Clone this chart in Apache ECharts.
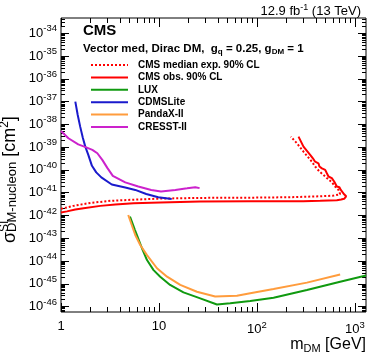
<!DOCTYPE html>
<html>
<head>
<meta charset="utf-8">
<title>CMS DM SI limits</title>
<script src="https://cdn.jsdelivr.net/npm/echarts@6/dist/echarts.min.js"></script>
<style>
html, body { margin:0; height:100%; background:#fff; }
</style>
</head>
<body>
<div id="main" style="width:374px;height:359px;"></div>
<script>
// axis range + tick labels
var X_MIN = 1, X_MAX = 1300;
var Y_MIN_EXP = -46.24, Y_MAX_EXP = -33.33;
var xMajor = [1, 10, 100, 1000];
var yMajorExp = [-46, -45, -44, -43, -42, -41, -40, -39, -38, -37, -36, -35, -34];

// CMS median expected 90% CL (dotted)
var expMass = [1.0, 1.335, 2.0, 3.19, 5.47, 10.3, 26.4, 85.5, 219, 442, 601, 708, 742, 681, 629, 582, 518, 478, 435, 393, 364, 299, 256, 222];
var expSigma = [1.95e-42, 2.63e-42, 3.55e-42, 4.37e-42, 4.90e-42, 5.50e-42, 5.89e-42, 6.03e-42, 6.31e-42, 6.92e-42, 7.41e-42, 8.51e-42, 9.77e-42, 1.32e-41, 1.86e-41, 2.88e-41, 4.37e-41, 6.03e-41, 8.51e-41, 1.41e-40, 2.29e-40, 6.31e-40, 1.48e-39, 2.88e-39];

// CMS observed 90% CL
var obsMass = [1.0, 1.15, 1.40, 1.70, 2.52, 3.58, 5.51, 10.3, 26.4, 85.5, 173, 297, 442, 655, 725, 778, 815, 778, 719, 696, 655, 615, 582, 538, 518, 498, 461, 435, 425, 393, 373, 350, 299, 266];
var obsSigma = [1.35e-42, 1.51e-42, 1.82e-42, 2.09e-42, 2.63e-42, 3.02e-42, 3.47e-42, 3.72e-42, 4.07e-42, 4.17e-42, 4.17e-42, 4.17e-42, 4.37e-42, 4.68e-42, 5.01e-42, 5.37e-42, 6.92e-42, 8.51e-42, 1.32e-41, 1.74e-41, 1.86e-41, 3.09e-41, 4.37e-41, 5.13e-41, 7.08e-41, 1.0e-40, 1.17e-40, 1.41e-40, 1.95e-40, 2.29e-40, 3.24e-40, 4.57e-40, 1.05e-39, 2.88e-39];

// LUX
var luxMass = [5.06, 5.69, 5.96, 6.71, 7.55, 8.81, 10.3, 13.0, 17.8, 26.4, 39.1, 53.4, 85.5, 148, 324, 708, 1300];
var luxSigma = [8.91e-43, 2.29e-43, 1.38e-43, 3.63e-44, 1.10e-44, 3.98e-45, 2.04e-45, 8.91e-46, 4.17e-46, 2.29e-46, 1.23e-46, 1.38e-46, 1.74e-46, 2.45e-46, 5.37e-46, 1.23e-45, 2.29e-45];

// CDMSLite
var cdmsMass = [1.40, 1.48, 1.57, 1.67, 1.77, 1.90, 2.07, 2.29, 2.58, 3.30, 4.53, 5.73, 7.42, 9.84, 13.5];
var cdmsSigma = [1.0e-37, 2.63e-38, 7.94e-39, 2.57e-39, 1.05e-39, 4.57e-40, 1.51e-40, 7.76e-41, 4.68e-41, 2.29e-41, 1.70e-41, 1.32e-41, 8.71e-42, 6.31e-42, 5.25e-42];

// PandaX-II
var pandaMass = [4.86, 5.73, 6.44, 7.55, 9.55, 12.1, 16.5, 24.4, 37.5, 62.5, 85.5, 148, 324, 708];
var pandaSigma = [1.05e-42, 1.38e-43, 5.01e-44, 1.82e-44, 4.79e-45, 2.04e-45, 8.91e-46, 4.47e-46, 2.75e-46, 2.95e-46, 3.80e-46, 5.89e-46, 1.12e-45, 2.57e-45];

// CRESST-II
var cresstMass = [1.0, 1.19, 1.50, 1.81, 2.09, 2.35, 2.64, 2.97, 3.38, 4.53, 6.15, 8.34, 10.5, 14.7, 19.4, 23.5, 26.0];
var cresstSigma = [5.13e-39, 2.45e-39, 1.32e-39, 9.77e-40, 7.59e-40, 5.37e-40, 2.75e-40, 1.23e-40, 5.50e-41, 2.82e-41, 1.86e-41, 1.32e-41, 1.12e-41, 1.32e-41, 1.55e-41, 1.74e-41, 1.58e-41];

var FONT = 'Liberation Sans';

function pairs(xs, ys) {
    var out = [];
    for (var i = 0; i < xs.length; i++) out.push([xs[i], ys[i]]);
    return out;
}

// minor ticks at 2..9 of each decade
var xMinor = [];
for (var d = 0; d <= 3; d++) for (var k = 2; k <= 9; k++) {
    if (k * Math.pow(10, d) < X_MAX) xMinor.push(k * Math.pow(10, d));
}
// the log axis can't build ticks for values this small (rounding to 0),
// so ticks/labels sit on a twin value axis running in decades
var yMinorExp = [];
for (var e = -47; e <= -34; e++) for (var k2 = 2; k2 <= 9; k2++) {
    var w = e + Math.log10(k2);
    if (w > Y_MIN_EXP && w < Y_MAX_EXP) yMinorExp.push(w);
}

var supRich = {
    b: { fontFamily: FONT, fontSize: 13, color: '#000' },
    s: { fontFamily: FONT, fontSize: 9.5, color: '#000', padding: [0, 0, 9, 0] }
};

function xAx(pos, ticks, len, labels) {
    return {
        type: 'log', position: pos, min: X_MIN, max: X_MAX,
        axisLine: { show: false, onZero: false }, splitLine: { show: false },
        axisTick: { show: true, inside: true, length: len, customValues: ticks, lineStyle: { color: '#000', width: 1 } },
        axisLabel: labels ? {
            show: true, margin: 8, customValues: xMajor, rich: supRich,
            formatter: function (v) {
                var p = Math.round(Math.log10(v));
                if (p < 2) return '{b|' + Math.pow(10, p) + '}';
                return '{b|10}{s|' + p + '}';
            }
        } : { show: false }
    };
}
function yAx(pos, ticks, len, labels) {
    return {
        type: 'value', position: pos, min: Y_MIN_EXP, max: Y_MAX_EXP,
        axisLine: { show: false, onZero: false }, splitLine: { show: false },
        axisTick: { show: true, inside: true, length: len, customValues: ticks, lineStyle: { color: '#000', width: 1 } },
        axisLabel: labels ? {
            show: true, margin: 4, customValues: yMajorExp, rich: supRich,
            formatter: function (v) {
                return '{b|10}{s|-' + (-Math.round(v)) + '}';
            }
        } : { show: false }
    };
}

var xAxes = [xAx('bottom', xMajor, 9, true), xAx('bottom', xMinor, 5, false), xAx('top', xMajor, 9, false), xAx('top', xMinor, 5, false)];
xAxes[0].name = '{n|m}{sub|DM}{n| [GeV]}';
xAxes[0].nameLocation = 'end';
xAxes[0].nameGap = 0;
xAxes[0].nameTextStyle = {
    align: 'right', verticalAlign: 'top', padding: [24, 0, 0, 0],
    rich: {
        n: { fontFamily: FONT, fontSize: 16, color: '#000' },
        sub: { fontFamily: FONT, fontSize: 11, color: '#000', padding: [7, 0, 0, 0] }
    }
};

var yAxes = [
    {
        type: 'log', position: 'left', min: Math.pow(10, Y_MIN_EXP), max: Math.pow(10, Y_MAX_EXP),
        axisLine: { show: false, onZero: false }, axisTick: { show: false },
        axisLabel: { show: false }, splitLine: { show: false }
    },
    yAx('left', yMajorExp, 8, true), yAx('left', yMinorExp, 4, false),
    yAx('right', yMajorExp, 8, false), yAx('right', yMinorExp, 4, false)
];

var myChart = echarts.init(document.getElementById('main'));

var option = {
    animation: false,
    backgroundColor: '#fff',
    grid: { left: 61, right: 8, top: 18, bottom: 47, show: true, borderColor: '#000', borderWidth: 1 },
    xAxis: xAxes,
    yAxis: yAxes,
    title: [
        {
            text: '{n|12.9 fb}{s|-1}{n| (13 TeV)}', right: 13, top: 3, padding: 0,
            textStyle: { rich: {
                n: { fontFamily: FONT, fontSize: 13, fontWeight: 'normal', color: '#000' },
                s: { fontFamily: FONT, fontSize: 9, fontWeight: 'normal', color: '#000', padding: [0, 0, 8, 0] }
            } }
        },
        {
            text: 'CMS', left: 83, top: 23, padding: 0,
            textStyle: { fontFamily: FONT, fontSize: 15, fontWeight: 'bold', color: '#000' }
        },
        {
            text: '{n|Vector med, Dirac DM,  g}{sub|q}{n| = 0.25, g}{sub|DM}{n| = 1}', left: 83, top: 42, padding: 0,
            textStyle: { rich: {
                n: { fontFamily: FONT, fontSize: 11.5, fontWeight: 'bold', color: '#000' },
                sub: { fontFamily: FONT, fontSize: 8, fontWeight: 'bold', color: '#000', padding: [6, 0, 0, 0] }
            } }
        }
    ],
    legend: {
        orient: 'vertical', left: 90, top: 60, padding: 0,
        itemWidth: 37, itemHeight: 12, itemGap: 2.4,
        itemStyle: { color: 'rgba(0,0,0,0)', borderWidth: 0 },
        data: ['CMS median exp. 90% CL', 'CMS obs. 90% CL', 'LUX', 'CDMSLite', 'PandaX-II', 'CRESST-II'],
        textStyle: { fontFamily: FONT, fontSize: 10, fontWeight: 'bold', color: '#000', padding: [0, 0, 0, 5] }
    },
    graphic: [{
        type: 'group', x: 21, y: 243, rotation: Math.PI / 2,
        children: [
            {
                type: 'text', x: 0, y: 0,
                style: {
                    text: '{m|σ}{sub|DM-nucleon}{m| [cm}{sup|2}{m|]}',
                    verticalAlign: 'bottom',
                    rich: {
                        m: { fontFamily: FONT, fontSize: 18, fill: '#000' },
                        sub: { fontFamily: FONT, fontSize: 13, fill: '#000', padding: [5, 0, 0, 0] },
                        sup: { fontFamily: FONT, fontSize: 12, fill: '#000', padding: [0, 0, 10, 0] }
                    }
                }
            },
            {
                type: 'text', x: 11, y: -10,
                style: { text: 'SI', fontFamily: FONT, fontSize: 12, fill: '#000', verticalAlign: 'bottom' }
            }
        ]
    }],
    series: [
        { name: 'CMS median exp. 90% CL', type: 'line', symbol: 'none', data: pairs(expMass, expSigma),
          lineStyle: { color: '#ff0000', width: 2, type: [2, 2] }, itemStyle: { color: '#ff0000' } },
        { name: 'CMS obs. 90% CL', type: 'line', symbol: 'none', data: pairs(obsMass, obsSigma),
          lineStyle: { color: '#ff0000', width: 2 }, itemStyle: { color: '#ff0000' } },
        { name: 'LUX', type: 'line', symbol: 'none', data: pairs(luxMass, luxSigma),
          lineStyle: { color: '#109a10', width: 2 }, itemStyle: { color: '#109a10' } },
        { name: 'CDMSLite', type: 'line', symbol: 'none', data: pairs(cdmsMass, cdmsSigma),
          lineStyle: { color: '#1a1acc', width: 2 }, itemStyle: { color: '#1a1acc' } },
        { name: 'PandaX-II', type: 'line', symbol: 'none', data: pairs(pandaMass, pandaSigma),
          lineStyle: { color: '#ff9c3d', width: 2 }, itemStyle: { color: '#ff9c3d' } },
        { name: 'CRESST-II', type: 'line', symbol: 'none', data: pairs(cresstMass, cresstSigma),
          lineStyle: { color: '#cc22cc', width: 2 }, itemStyle: { color: '#cc22cc' } }
    ]
};

myChart.setOption(option);
</script>
</body>
</html>
